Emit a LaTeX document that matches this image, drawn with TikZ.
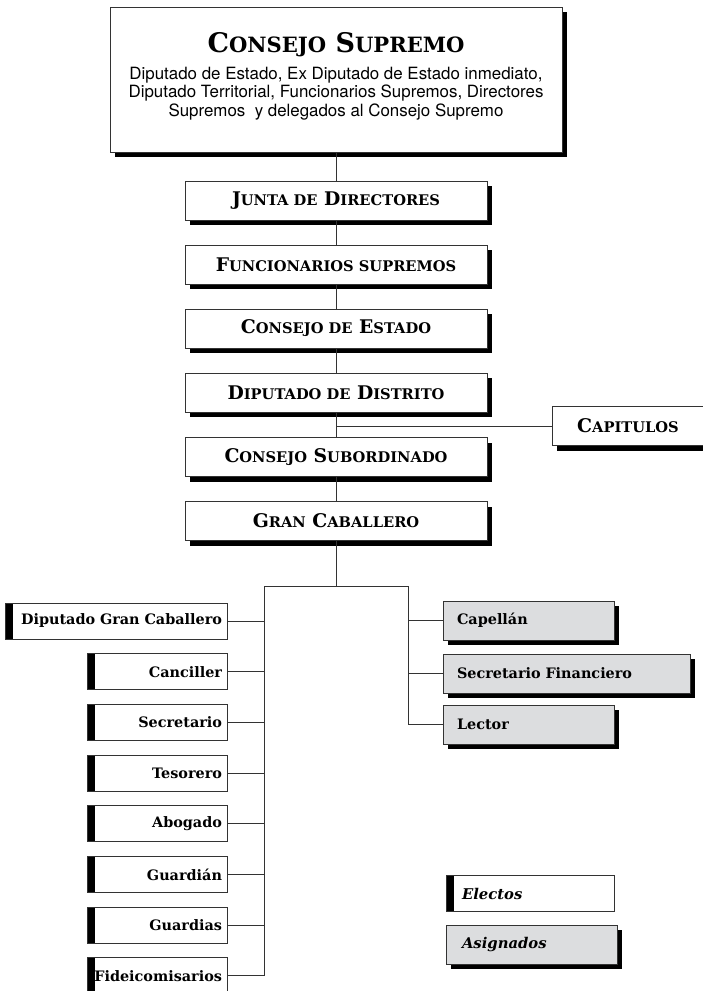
\documentclass[tikz,border=0pt]{standalone}
\usepackage{fontspec}
\setmainfont{DejaVu Serif}
\setsansfont{TeX Gyre Heros}
\usetikzlibrary{shadows}
\definecolor{boxgray}{HTML}{DCDDDF}
\definecolor{linegray}{HTML}{333333}
\makeatletter
\newcommand{\vs}[1]{{\fontsize{\strip@pt\dimexpr 0.78\dimexpr\f@size pt\relax\relax}{0}\selectfont #1}}
\makeatother
\tikzset{
    every node/.style={inner sep=0pt, font=\bfseries}
}
\tikzset{
    every edge/.append style={line width=1pt, draw=linegray}
}
\tikzset{
    cuadro/.style={rectangle, draw=linegray, line width=1pt, fill=white},
    sombra/.style={drop shadow={shadow xshift=5pt, shadow yshift=-5pt,
        fill=black, opacity=1}},
    rango/.style={cuadro, sombra, minimum width=302pt, minimum height=39pt,
        font=\fontsize{18.8}{22}\selectfont\bfseries},
    electo/.style={cuadro, minimum height=36pt, text width=#1, align=right,
        inner xsep=5pt, font=\fontsize{14.4}{17}\selectfont\bfseries,
        path picture={\fill[black] (path picture bounding box.north west)
            rectangle ([xshift=8pt]path picture bounding box.south west);}},
    asignado/.style={cuadro, sombra, fill=boxgray, minimum height=39pt,
        text width=#1, align=left, inner xsep=14pt,
        font=\fontsize{14.4}{17}\selectfont\bfseries},
    conector/.style={line width=1pt, draw=linegray}
}

\begin{document}
\begin{tikzpicture}[x=1pt,y=-1pt]
  \useasboundingbox (0,0) rectangle (702,991);

  \node (cs) [cuadro, sombra, minimum width=452pt, minimum height=145pt] at (336,79.5) {};
  \node (titulo) [anchor=base, font=\fontsize{27}{32}\selectfont\bfseries] at (336,52) {C\vs{ONSEJO} S\vs{UPREMO}};
  \node (miembros) [anchor=north, align=center, font=\fontsize{16.9}{18.3}\selectfont\sffamily\mdseries] at (336,67)
    {Diputado de Estado, Ex Diputado de Estado inmediato,\\
     Diputado Territorial, Funcionarios Supremos, Directores\\
     Supremos\ \ y delegados al Consejo Supremo};

  \node (jd) [rango] at (336,200.5) {J\vs{UNTA DE} D\vs{IRECTORES}};
  \node (fs) [rango] at (336,264.5) {F\vs{UNCIONARIOS SUPREMOS}};
  \node (ce) [rango] at (336,328.5) {C\vs{ONSEJO DE} E\vs{STADO}};
  \node (dd) [rango] at (336,392.5) {D\vs{IPUTADO DE} D\vs{ISTRITO}};
  \node (cso) [rango] at (336,457) {C\vs{ONSEJO} S\vs{UBORDINADO}};
  \node (gc) [rango] at (336,521) {G\vs{RAN} C\vs{ABALLERO}};
  \node (cap) [rango, minimum width=152pt] at (628,426) {C\vs{APITULOS}};

  \coordinate (bus) at (336,586);
  \coordinate (busL) at (264,586);
  \coordinate (busR) at (408,586);

  \node (dgc) [electo=212pt] at (116,621) {Diputado Gran Caballero};
  \node (can) [electo=130pt] at (157,671.7) {Canciller};
  \node (sec) [electo=130pt] at (157,722.4) {Secretario};
  \node (tes) [electo=130pt] at (157,773.1) {Tesorero};
  \node (abo) [electo=130pt] at (157,823.8) {Abogado};
  \node (gua) [electo=130pt] at (157,874.5) {Guardián};
  \node (gds) [electo=130pt] at (157,925.2) {Guardias};
  \node (fid) [electo=130pt] at (157,975.9) {Fideicomisarios};

  \node (cpl) [asignado=143pt] at (528.5,620.5) {Capellán};
  \node (sf) [asignado=219pt] at (566.5,673.5) {Secretario Financiero};
  \node (lec) [asignado=143pt] at (528.5,724.5) {Lector};

  \node (ele) [electo=136pt, align=left, inner xsep=16pt,
    font=\fontsize{14.8}{17}\selectfont\bfseries\itshape] at (530,893.5) {Electos};
  \node (asg) [asignado=139pt, inner xsep=16pt,
    font=\fontsize{14.8}{17}\selectfont\bfseries\itshape] at (531.5,944.5) {Asignados};

  \draw (cs) edge (jd);
  \draw (jd) edge (fs);
  \draw (fs) edge (ce);
  \draw (ce) edge (dd);
  \draw (dd) edge (cso);
  \draw (cso) edge (gc);
  \draw [conector] (cap.west) -- (cap.west -| dd.south);
  \draw [conector] (gc) -- (bus);
  \draw [conector] (busL) -- (busR);

  \draw [conector] (dgc.east) -| (busL);
  \draw [conector] (can.east) -| (busL);
  \draw [conector] (sec.east) -| (busL);
  \draw [conector] (tes.east) -| (busL);
  \draw [conector] (abo.east) -| (busL);
  \draw [conector] (gua.east) -| (busL);
  \draw [conector] (gds.east) -| (busL);
  \draw [conector] (fid.east) -| (busL);

  \draw [conector] (cpl.west) -| (busR);
  \draw [conector] (sf.west) -| (busR);
  \draw [conector] (lec.west) -| (busR);
\end{tikzpicture}
\end{document}
